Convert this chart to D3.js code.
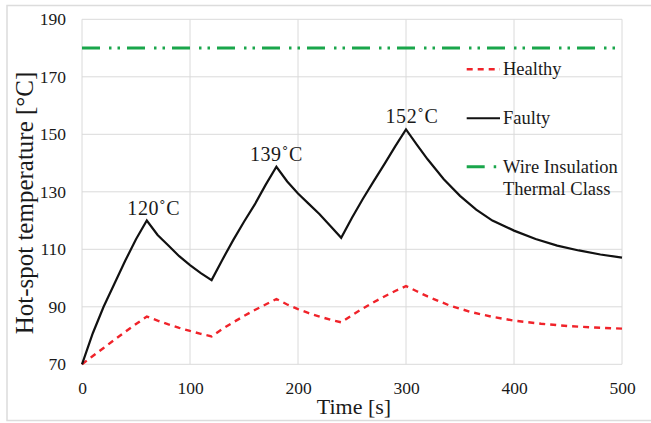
<!DOCTYPE html>
<html><head><meta charset="utf-8">
<script src="https://cdn.jsdelivr.net/npm/d3@7/dist/d3.min.js"></script>
<style>body{margin:0;background:#fff}svg{display:block}svg text{font-family:"Liberation Serif","Times New Roman",serif !important;fill:#1a1a1a}</style>
</head><body>
<svg id="c" width="651" height="423"></svg>
<script>
// ---- data ----
const faultyTime = [0,10,20,30,40,50,60,70,80,90,100,110,120,130,140,150,160,170,180,190,200,210,220,230,240,250,260,270,280,290,300,310,320,335,350,365,380,400,420,440,460,480,500];
const faultyTemp = [70,80.8,90,98,106,113.5,120,115,111.3,107.6,104.5,101.7,99.3,106.4,113.2,119.6,125.6,132.4,138.7,133.6,129.4,125.8,122.2,118.1,114,121,127.5,133.6,139.6,145.8,151.7,146.4,141.3,134.4,128.6,123.8,120,116.5,113.6,111.3,109.6,108.2,107.1];
const healthyTime = [0,10,20,30,40,50,60,70,80,90,100,110,120,130,140,150,160,170,180,190,200,210,220,230,240,250,260,270,280,290,300,310,320,340,360,380,400,425,450,475,500];
const healthyTemp = [70,72.9,75.7,78.5,81.3,84,86.6,85.2,83.9,82.7,81.6,80.6,79.7,82.3,84.6,86.8,88.9,90.8,92.7,90.8,89.2,87.8,86.6,85.5,84.6,87.1,89.4,91.6,93.6,95.5,97.2,95.4,93.6,90.5,88.2,86.5,85.2,84.1,83.3,82.8,82.4];
const thermalClass = 180;
const peakTimes = [60,180,300];
const peakLabels = ["120˚C","139˚C","152˚C"];
const xTicks = [0,100,200,300,400,500];
const yTicks = [70,90,110,130,150,170,190];
const legendNames = ["Healthy","Faulty","Wire Insulation|Thermal Class"];

// ---- layout ----
const SERIF = '"Liberation Serif", "Times New Roman", serif';
const svg = d3.select("#c");
const x = d3.scaleLinear().domain([0,500]).range([82,622]);
const y = d3.scaleLinear().domain([70,190]).range([364.3,19.3]);
const grid = "#dadada";

svg.append("rect").attr("x",7).attr("y",5.5).attr("width",700).attr("height",415)
  .attr("fill","none").attr("stroke","#dcdcdc").attr("stroke-width",1.5);

// gridlines
svg.append("g").selectAll("line").data(xTicks).join("line")
  .attr("x1",d=>x(d)).attr("x2",d=>x(d)).attr("y1",y(190)).attr("y2",y(70))
  .attr("stroke",grid).attr("stroke-width",1);
svg.append("g").selectAll("line").data(yTicks).join("line")
  .attr("y1",d=>y(d)).attr("y2",d=>y(d)).attr("x1",x(0)).attr("x2",x(500))
  .attr("stroke",grid).attr("stroke-width",1);

// axes labels via d3 axes (no domain / tick lines)
const xa = svg.append("g").attr("transform",`translate(0,${y(70)})`)
  .call(d3.axisBottom(x).tickValues(xTicks).tickSize(0).tickPadding(17));
const ya = svg.append("g").attr("transform",`translate(${x(0)},0)`)
  .call(d3.axisLeft(y).tickValues(yTicks).tickSize(0).tickPadding(16));
[xa,ya].forEach(g=>{g.select(".domain").remove();
  g.attr("font-family",SERIF).attr("font-size",17);
  g.selectAll("text").style("font-family",SERIF).style("font-size","17.5px").attr("fill","#1a1a1a");});

// thermal class line
const greenDash = "18,9,2.5,6,2.5,7";
svg.append("line").attr("x1",x(0)).attr("x2",x(500)).attr("y1",y(thermalClass)).attr("y2",y(thermalClass))
  .attr("stroke","#1aa64b").attr("stroke-width",3).attr("stroke-dasharray",greenDash);

const line = d3.line().x(d=>x(d[0])).y(d=>y(d[1]));
svg.append("path").datum(healthyTime.map((t,i)=>[t,healthyTemp[i]]))
  .attr("d",line).attr("fill","none").attr("stroke","#f0232a").attr("stroke-width",2.4)
  .attr("stroke-dasharray","6,5");
svg.append("path").datum(faultyTime.map((t,i)=>[t,faultyTemp[i]]))
  .attr("d",line).attr("fill","none").attr("stroke","#111").attr("stroke-width",2.2);

// peak labels
svg.append("g").selectAll("text").data(peakTimes).join("text")
  .attr("x",(d,i)=>x(d)+[7,0,6][i]).attr("y",d=>y(faultyTemp[faultyTime.indexOf(d)])-6)
  .attr("text-anchor","middle").style("font-family",SERIF).style("font-size","20px")
  .style("letter-spacing","0.6px").text((d,i)=>peakLabels[i]);

// legend
const ly = [69.3,118.3,166.7];
const styles = [{c:"#f0232a",w:2.4,da:"6,5"},{c:"#111",w:2,da:null},{c:"#1aa64b",w:3,da:greenDash}];
legendNames.forEach((n,i)=>{
  svg.append("line").attr("x1",466.7).attr("x2",i==2?497:500).attr("y1",ly[i]).attr("y2",ly[i])
    .attr("stroke",styles[i].c).attr("stroke-width",styles[i].w).attr("stroke-dasharray",styles[i].da);
  n.split("|").forEach((s,j)=>{
    svg.append("text").attr("x",503).attr("y",ly[i]+6+j*22).style("font-family",SERIF).style("font-size","18.5px").text(s);
  });
});

// axis titles
svg.append("text").attr("x",354).attr("y",414).attr("text-anchor","middle")
  .style("font-family",SERIF).style("font-size","22px").text("Time [s]");
svg.append("text").attr("transform","translate(33,203) rotate(-90)").attr("text-anchor","middle")
  .style("font-family",SERIF).style("font-size","25px").text("Hot-spot temperature [°C]");
</script>
</body></html>
